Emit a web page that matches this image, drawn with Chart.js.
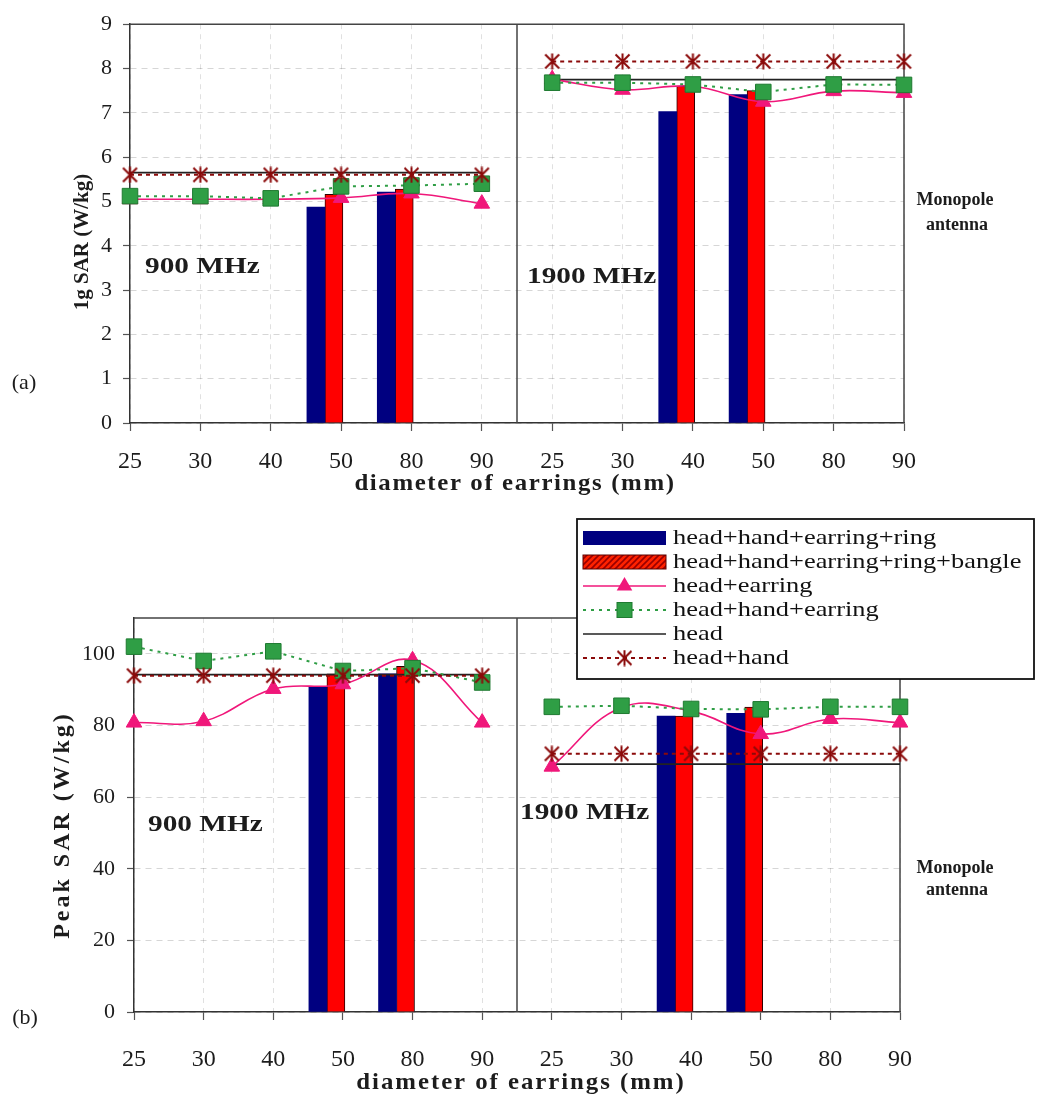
<!DOCTYPE html>
<html>
<head>
<meta charset="utf-8">
<title>SAR with earrings, rings and bangles</title>
<script src="https://cdn.jsdelivr.net/npm/chart.js@4/dist/chart.umd.min.js"></script>
<style>
  html, body { margin: 0; padding: 0; background: #ffffff; }
  .panel { position: absolute; left: 0; width: 1039px; }
  #panelA { top: 0; height: 500px; }
  #panelB { top: 500px; height: 601px; }
</style>
</head>
<body>
<div class="panel" id="panelA"><canvas id="chartA"></canvas></div>
<div class="panel" id="panelB"><canvas id="chartB"></canvas></div>
<script>
// ---- data -------------------------------------------------------------
// earring diameters (mm): 900 MHz group followed by 1900 MHz group
const categories = ['25', '30', '40', '50', '80', '90', '25', '30', '40', '50', '80', '90'];
const yTicksA = [0, 1, 2, 3, 4, 5, 6, 7, 8, 9];
const yTicksB = [0, 20, 40, 60, 80, 100];
const seriesNames = [
  'head+hand+earring+ring',
  'head+hand+earring+ring+bangle',
  'head+earring',
  'head+hand+earring',
  'head',
  'head+hand'
];

// (a) 1g SAR (W/kg)
const ringA      = [null, null, null, 4.87, 5.21, null,  null, null, 7.03, 7.41, null, null];
const bangleA    = [null, null, null, 5.16, 5.28, null,  null, null, 7.60, 7.50, null, null];
const earringA   = [5.05, 5.05, 5.05, 5.08, 5.18, 4.95,  7.76, 7.52, 7.60, 7.25, 7.49, 7.45];
const handEarA   = [5.12, 5.12, 5.07, 5.34, 5.36, 5.40,  7.68, 7.68, 7.64, 7.47, 7.64, 7.63];
const headA      = [5.65, 5.65, 5.65, 5.65, 5.65, 5.65,  7.75, 7.75, 7.75, 7.75, 7.75, 7.75];
const headHandA  = [5.60, 5.60, 5.60, 5.60, 5.60, 5.60,  8.16, 8.16, 8.16, 8.16, 8.16, 8.16];

// (b) Peak SAR (W/kg)
const ringB      = [null, null, null, 90.7, 94.4, null,  null, null, 82.6, 83.4, null, null];
const bangleB    = [null, null, null, 94.4, 96.5, null,  null, null, 82.6, 85.1, null, null];
const earringB   = [80.8, 81.2, 90.2, 91.5, 98.2, 80.8,  68.5, 85.0, 84.0, 77.6, 81.8, 80.8];
const handEarB   = [102.0, 98.0, 100.7, 95.2, 96.0, 92.0, 85.2, 85.5, 84.6, 84.5, 85.2, 85.2];
const headB      = [94.2, 94.2, 94.2, 94.2, 94.2, 94.2,  69.2, 69.2, 69.2, 69.2, 69.2, 69.2];
const headHandB  = [93.9, 93.9, 93.9, 93.9, 93.9, 93.9,  72.1, 72.1, 72.1, 72.1, 72.1, 72.1];

// ---- styling ----------------------------------------------------------
const FONT = '"Liberation Serif", "Times New Roman", Tinos, Times, serif';
const INK = '#1c1c1c';
const COL = {
  ring: '#000080',
  bangle: '#ff0000',
  bangleEdge: '#2a0000',
  earring: '#f0177a',
  handEar: '#2f9e45',
  handEarEdge: '#1f7a31',
  head: '#222222',
  headHand: '#8b0a0a'
};
const GROUP_SIZE = 6;      // points per frequency group
const BAR_SHIFT = 0.23;    // bar pairs sit just left of their diameter tick
const BAR_WIDTH = 18;

function makeStar(color, size) {
  const c = document.createElement('canvas');
  c.width = size; c.height = size;
  const g = c.getContext('2d');
  g.strokeStyle = color;
  g.lineWidth = 2;
  const a = 1.5, b = size - 1.5, h = size / 2;
  g.beginPath();
  g.moveTo(a, a); g.lineTo(b, b);
  g.moveTo(b, a); g.lineTo(a, b);
  g.moveTo(h, 0.5); g.lineTo(h, size - 0.5);
  g.stroke();
  return c;
}
const STAR = makeStar(COL.headHand, 17);

function makeHatch() {
  const c = document.createElement('canvas');
  c.width = 6; c.height = 6;
  const g = c.getContext('2d');
  g.fillStyle = '#ff2200';
  g.fillRect(0, 0, 6, 6);
  g.strokeStyle = '#9a0000';
  g.lineWidth = 1.6;
  g.beginPath();
  g.moveTo(0, 6); g.lineTo(6, 0);
  g.moveTo(-1, 1); g.lineTo(1, -1);
  g.moveTo(5, 7); g.lineTo(7, 5);
  g.stroke();
  return c;
}

// line points, broken between the two frequency groups
function linePoints(values) {
  const pts = [];
  values.forEach((v, i) => {
    if (i === GROUP_SIZE) pts.push({ x: i - 0.5, y: null });
    pts.push({ x: i, y: v });
  });
  return pts;
}
function barPoints(values) {
  const pts = [];
  values.forEach((v, i) => { if (v !== null) pts.push({ x: i - BAR_SHIFT, y: v }); });
  return pts;
}

function makeDatasets(s) {
  return [
    {
      type: 'line', label: seriesNames[5], data: linePoints(s.headHand),
      borderColor: COL.headHand, borderWidth: 2, borderDash: [4, 4],
      pointStyle: STAR, pointRadius: 8, tension: 0, spanGaps: false, clip: false, order: 0
    },
    {
      type: 'line', label: seriesNames[3], data: linePoints(s.handEar),
      borderColor: COL.handEar, borderWidth: 2, borderDash: [3, 5],
      pointStyle: 'rect', pointRadius: 11, pointBackgroundColor: COL.handEar,
      pointBorderColor: COL.handEarEdge, pointBorderWidth: 1,
      tension: 0, spanGaps: false, clip: false, order: 1
    },
    {
      type: 'line', label: seriesNames[2], data: linePoints(s.earring),
      borderColor: COL.earring, borderWidth: 1.6,
      pointStyle: 'triangle', pointRadius: 9, pointBackgroundColor: COL.earring,
      pointBorderColor: COL.earring, pointBorderWidth: 1,
      tension: 0.4, spanGaps: false, clip: false, order: 2
    },
    {
      type: 'line', label: seriesNames[4], data: linePoints(s.head),
      borderColor: COL.head, borderWidth: 1.6, pointRadius: 0,
      tension: 0, spanGaps: false, clip: false, order: 3
    },
    {
      type: 'bar', label: seriesNames[0], data: barPoints(s.ring),
      backgroundColor: COL.ring, borderWidth: 0, barThickness: BAR_WIDTH, order: 10
    },
    {
      type: 'bar', label: seriesNames[1], data: barPoints(s.bangle),
      backgroundColor: COL.bangle, borderColor: COL.bangleEdge, borderWidth: 1,
      barThickness: BAR_WIDTH, order: 10
    }
  ];
}

// ---- decorations: frame, divider, annotations, legend -----------------
function drawText(ctx, t) {
  ctx.save();
  ctx.font = t.font;
  ctx.fillStyle = t.color || INK;
  ctx.textAlign = t.align || 'center';
  ctx.textBaseline = 'middle';
  if (t.spacing) ctx.letterSpacing = t.spacing + 'px';
  ctx.translate(t.x, t.y);
  if (t.rot) ctx.rotate(t.rot);
  if (t.sx) ctx.scale(t.sx, 1);
  ctx.fillText(t.text, 0, 0);
  ctx.restore();
}

function drawMarker(ctx, kind, x, y) {
  ctx.save();
  if (kind === 'star') {
    ctx.drawImage(STAR, x - STAR.width / 2, y - STAR.height / 2);
  } else if (kind === 'rect') {
    ctx.fillStyle = COL.handEar;
    ctx.strokeStyle = COL.handEarEdge;
    ctx.lineWidth = 1;
    ctx.fillRect(x - 7.5, y - 7.5, 15, 15);
    ctx.strokeRect(x - 7.5, y - 7.5, 15, 15);
  } else if (kind === 'triangle') {
    const r = 9;
    ctx.fillStyle = COL.earring;
    ctx.beginPath();
    ctx.moveTo(x, y - r);
    ctx.lineTo(x + r * 0.866, y + r * 0.5);
    ctx.lineTo(x - r * 0.866, y + r * 0.5);
    ctx.closePath();
    ctx.fill();
  }
  ctx.restore();
}

function drawLegend(ctx, L) {
  ctx.save();
  ctx.fillStyle = '#ffffff';
  ctx.fillRect(L.x, L.y, L.w, L.h);
  ctx.strokeStyle = '#111111';
  ctx.lineWidth = 1.8;
  ctx.strokeRect(L.x, L.y, L.w, L.h);
  const hatch = ctx.createPattern(makeHatch(), 'repeat');
  const rows = [
    { kind: 'bar', fill: COL.ring },
    { kind: 'bar', fill: hatch, edge: '#5a0000' },
    { kind: 'line', color: COL.earring, width: 1.6, dash: [], marker: 'triangle' },
    { kind: 'line', color: COL.handEar, width: 2, dash: [3, 5], marker: 'rect' },
    { kind: 'line', color: COL.head, width: 1.6, dash: [] },
    { kind: 'line', color: COL.headHand, width: 2, dash: [4, 4], marker: 'star' }
  ];
  rows.forEach((r, i) => {
    const y = L.rowY + i * L.rowGap;
    if (r.kind === 'bar') {
      ctx.fillStyle = r.fill;
      ctx.fillRect(L.s0, y - 7, L.s1 - L.s0, 14);
      if (r.edge) {
        ctx.strokeStyle = r.edge;
        ctx.lineWidth = 1;
        ctx.strokeRect(L.s0, y - 7, L.s1 - L.s0, 14);
      }
    } else {
      ctx.save();
      ctx.strokeStyle = r.color;
      ctx.lineWidth = r.width;
      ctx.setLineDash(r.dash);
      ctx.beginPath();
      ctx.moveTo(L.s0, y);
      ctx.lineTo(L.s1, y);
      ctx.stroke();
      ctx.restore();
      if (r.marker) drawMarker(ctx, r.marker, (L.s0 + L.s1) / 2, y);
    }
    drawText(ctx, { text: seriesNames[i], x: L.tx, y: y, font: '22px ' + FONT, align: 'left', sx: 1.2, color: '#111' });
  });
  ctx.restore();
}

const framePlugin = {
  id: 'frame',
  beforeDatasetsDraw(chart, args, opts) {
    const { ctx, chartArea: a, scales } = chart;
    ctx.save();
    ctx.strokeStyle = '#444444';
    ctx.lineWidth = 1.5;
    ctx.beginPath();
    ctx.moveTo(a.left, a.top);
    ctx.lineTo(a.right, a.top);
    ctx.lineTo(a.right, a.bottom);
    const dx = scales.x.getPixelForValue(opts.divider);
    ctx.moveTo(dx, a.top);
    ctx.lineTo(dx, a.bottom);
    ctx.stroke();
    ctx.restore();
  },
  afterDraw(chart, args, opts) {
    const ctx = chart.ctx;
    (opts.texts || []).forEach(t => drawText(ctx, t));
    if (opts.legend) drawLegend(ctx, opts.legend);
  }
};

function buildChart(id, p) {
  const tickFontX = { family: FONT, size: 24 };
  const tickFontY = { family: FONT, size: 22 };
  return new Chart(document.getElementById(id), {
    type: 'line',
    data: { datasets: makeDatasets(p.series) },
    plugins: [framePlugin],
    options: {
      responsive: true,
      maintainAspectRatio: false,
      animation: false,
      events: [],
      layout: { padding: { top: p.top, right: p.right, left: 0, bottom: 0 } },
      scales: {
        x: {
          type: 'linear', min: 0, max: categories.length - 1, offset: false,
          afterBuildTicks: s => { s.ticks = categories.map((_, i) => ({ value: i })); },
          afterFit: s => { s.height = p.xHeight; },
          ticks: {
            callback: v => categories[v], font: tickFontX, color: INK,
            padding: p.xPad, autoSkip: false, maxRotation: 0, minRotation: 0
          },
          grid: {
            offset: false, color: 'rgba(0,0,0,0.12)', lineWidth: 1,
            tickLength: 8, tickColor: '#555555', tickWidth: 1.2, tickBorderDash: []
          },
          border: { color: '#333333', width: 1.5, dash: [5, 5] }
        },
        y: {
          type: 'linear', min: 0, max: p.yMax,
          afterBuildTicks: s => { s.ticks = p.yTicks.map(v => ({ value: v })); },
          afterFit: s => { s.width = p.yWidth; },
          ticks: { font: tickFontY, color: INK, padding: p.yPad },
          grid: {
            color: 'rgba(0,0,0,0.16)', lineWidth: 1,
            tickLength: 7, tickColor: '#555555', tickWidth: 1.2, tickBorderDash: []
          },
          border: { color: '#333333', width: 1.5, dash: [6, 5] }
        }
      },
      plugins: {
        legend: { display: false },
        tooltip: { enabled: false },
        frame: { divider: GROUP_SIZE - 0.5, texts: p.texts, legend: p.legend }
      }
    }
  });
}

const bold = (size) => 'bold ' + size + 'px ' + FONT;
const plain = (size) => size + 'px ' + FONT;

buildChart('chartA', {
  series: { ring: ringA, bangle: bangleA, earring: earringA, handEar: handEarA, head: headA, headHand: headHandA },
  yTicks: yTicksA, yMax: 9,
  top: 17, right: 135, yWidth: 130, xHeight: 77, xPad: 16, yPad: 11,
  texts: [
    { text: '(a)', x: 24, y: 383, font: plain(22) },
    { text: '1g SAR (W/kg)', x: 83, y: 242, font: bold(21), rot: -Math.PI / 2 },
    { text: 'diameter of earrings (mm)', x: 515, y: 484, font: bold(23), spacing: 1.5, sx: 1.08 },
    { text: '900 MHz', x: 145, y: 267, font: bold(24), align: 'left', sx: 1.22 },
    { text: '1900 MHz', x: 527, y: 277, font: bold(24), align: 'left', sx: 1.22 },
    { text: 'Monopole', x: 955, y: 200, font: bold(18) },
    { text: 'antenna', x: 957, y: 225, font: bold(18) }
  ]
});

buildChart('chartB', {
  series: { ring: ringB, bangle: bangleB, earring: earringB, handEar: handEarB, head: headB, headHand: headHandB },
  yTicks: yTicksB, yMax: 110,
  top: 118, right: 139, yWidth: 134, xHeight: 89, xPad: 25, yPad: 12,
  texts: [
    { text: '(b)', x: 25, y: 518, font: plain(22) },
    { text: 'Peak SAR (W/kg)', x: 63, y: 325, font: bold(24), rot: -Math.PI / 2, spacing: 3 },
    { text: 'diameter of earrings (mm)', x: 521, y: 583, font: bold(23), spacing: 1.8, sx: 1.08 },
    { text: '900 MHz', x: 148, y: 325, font: bold(24), align: 'left', sx: 1.22 },
    { text: '1900 MHz', x: 520, y: 313, font: bold(24), align: 'left', sx: 1.22 },
    { text: 'Monopole', x: 955, y: 368, font: bold(18) },
    { text: 'antenna', x: 957, y: 390, font: bold(18) }
  ],
  legend: { x: 577, y: 19, w: 457, h: 160, rowY: 38, rowGap: 24, s0: 583, s1: 666, tx: 673 }
});
</script>
</body>
</html>
